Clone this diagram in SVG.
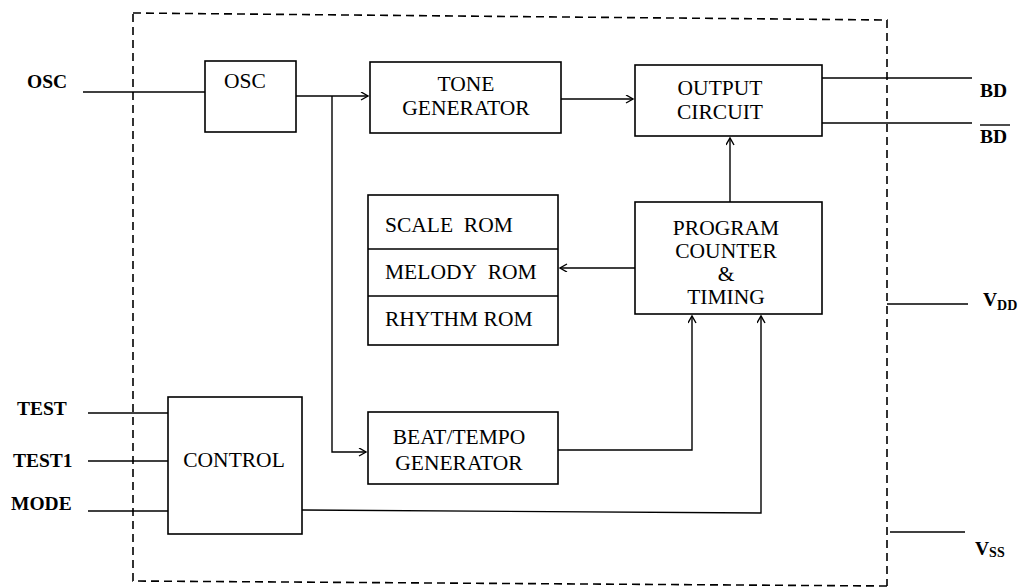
<svg xmlns="http://www.w3.org/2000/svg" width="1024" height="587" viewBox="0 0 1024 587">
<style>
.box{fill:none;stroke:#000;stroke-width:1.6}
.ln{fill:none;stroke:#000;stroke-width:1.4}
.t{font-family:"Liberation Serif","Times New Roman",serif;font-size:21.5px;fill:#000}
.c{text-anchor:middle}
.lbl{font-family:"Liberation Serif","Times New Roman",serif;font-size:19.5px;font-weight:bold;fill:#000}
.sub{font-size:14px}
</style>
<defs>
<marker id="ah" markerWidth="10" markerHeight="10" refX="8" refY="4" orient="auto" markerUnits="userSpaceOnUse">
<path d="M1,0 L8,4 L1,8" fill="none" stroke="#000" stroke-width="1.4"/>
</marker>
</defs>
<rect width="1024" height="587" fill="#fff"/>
<g id="boundary">
<path d="M133,13 L887,20 L887,586 M887,586 L133,581 L133,13" fill="none" stroke="#000" stroke-width="1.6" stroke-dasharray="8,5"/>
</g>
<g id="connectors">
<path class="ln" d="M83,92 L205,92"/>
<path class="ln" d="M296,96 L368,96" marker-end="url(#ah)"/>
<path class="ln" d="M332,96 L332,452 L366,452" marker-end="url(#ah)"/>
<path class="ln" d="M561,99 L633,99" marker-end="url(#ah)"/>
<path class="ln" d="M822,78 L972,78"/>
<path class="ln" d="M822,123 L972,123"/>
<path class="ln" d="M730,202 L730,138" marker-end="url(#ah)"/>
<path class="ln" d="M635,268 L560,268" marker-end="url(#ah)"/>
<path class="ln" d="M558,450 L692,450 L692,316" marker-end="url(#ah)"/>
<path class="ln" d="M302,510 L761,513 L761,316" marker-end="url(#ah)"/>
<path class="ln" d="M88,413 L168,413"/>
<path class="ln" d="M88,461 L168,461"/>
<path class="ln" d="M88,511 L168,511"/>
<path class="ln" d="M887,304 L968,304"/>
<path class="ln" d="M890,532 L965,532"/>
</g>
<g id="labels">
<text class="lbl" x="27" y="88">OSC</text>
<text class="lbl" x="17" y="415">TEST</text>
<text class="lbl" x="13" y="467">TEST1</text>
<text class="lbl" x="11" y="510">MODE</text>
<text class="lbl" x="980" y="97">BD</text>
<text class="lbl" x="980" y="143">BD</text>
<path class="ln" d="M980,125 L1010,125"/>
<text class="lbl" x="983" y="306">V<tspan class="sub" dy="4">DD</tspan></text>
<text class="lbl" x="975" y="555">V<tspan class="sub" dy="2">SS</tspan></text>
</g>
<g id="osc">
<rect class="box" x="205" y="61" width="91" height="71"/>
<text class="t c" x="245" y="88">OSC</text>
</g>
<g id="tone">
<rect class="box" x="370" y="62" width="191" height="71"/>
<text class="t c" x="466" y="91">TONE</text>
<text class="t c" x="466" y="115">GENERATOR</text>
</g>
<g id="output">
<rect class="box" x="635" y="65" width="187" height="71"/>
<text class="t c" x="720" y="95">OUTPUT</text>
<text class="t c" x="720" y="119">CIRCUIT</text>
</g>
<g id="rom">
<rect class="box" x="368" y="195" width="190" height="150"/>
<path class="ln" d="M368,249 L558,249 M368,296 L558,296"/>
<text class="t" x="385" y="232">SCALE&#160; ROM</text>
<text class="t" x="385" y="279">MELODY&#160; ROM</text>
<text class="t" x="385" y="326">RHYTHM ROM</text>
</g>
<g id="pc">
<rect class="box" x="635" y="202" width="187" height="112"/>
<text class="t c" x="726" y="235">PROGRAM</text>
<text class="t c" x="726" y="258">COUNTER</text>
<text class="t c" x="726" y="281">&amp;</text>
<text class="t c" x="726" y="304">TIMING</text>
</g>
<g id="control">
<rect class="box" x="168" y="397" width="134" height="137"/>
<text class="t c" x="234" y="467">CONTROL</text>
</g>
<g id="beat">
<rect class="box" x="368" y="412" width="190" height="72"/>
<text class="t c" x="459" y="444">BEAT/TEMPO</text>
<text class="t c" x="459" y="470">GENERATOR</text>
</g>
</svg>
